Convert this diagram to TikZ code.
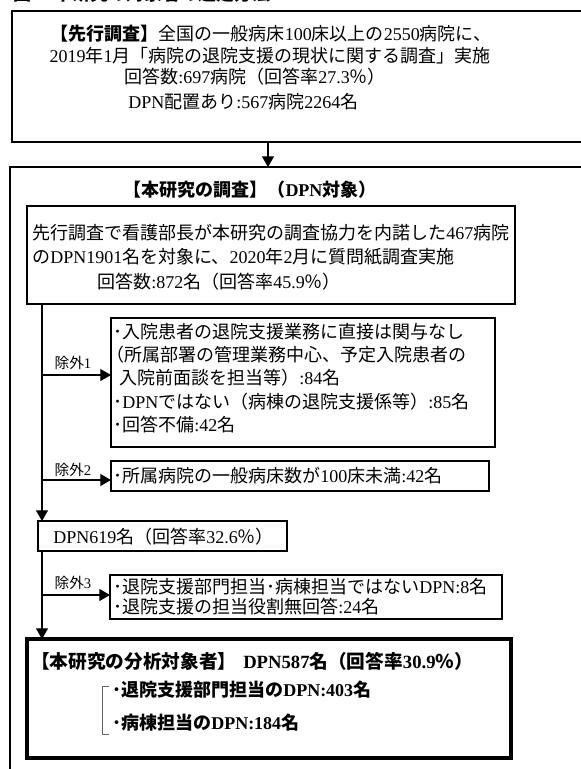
\documentclass[tikz,border=0pt]{standalone}
\usepackage{fontspec}
\setmainfont{Noto Sans CJK JP}
\newfontfamily\tnr{Liberation Serif}
\newcommand\lat[1]{{\tnr #1}}
\newcommand\fsmain{\fontsize{13.5pt}{16pt}\selectfont}
\newcommand\fstitle{\fontsize{14pt}{17pt}\selectfont}
\newcommand\fslab{\fontsize{11pt}{13pt}\selectfont}
\usetikzlibrary{arrows.meta,fit}
\tikzset{
  box/.style={draw, line width=1.2pt, inner sep=0pt, outer sep=0pt},
  thickbox/.style={draw, line width=2.5pt, inner sep=0pt, outer sep=0pt},
  tx/.style={inner sep=0pt, anchor=west, font=\fsmain, text height=11.9pt, text depth=1.6pt},
  txc/.style={tx, anchor=center},
  lab/.style={inner sep=0pt, font=\fslab, text height=9.7pt, text depth=1.3pt},
  arr/.style={line width=0.8pt, -{Triangle[length=8pt,width=9pt]}},
  brk/.style={line width=0.5pt, draw=black!60},
}
\begin{document}
\begin{tikzpicture}[x=0.75pt,y=-0.75pt]
\useasboundingbox (0,0) rectangle (581,769);
\clip (0,0) rectangle (581,769);
% caption, cut off at the top edge
\node[tx, font=\fsmain\bfseries] (cap) at (13,-6) {図\lat{1}\hspace{11pt}本研究の対象者の選定方法};
% preceding survey
\node[box, fit={(12,11) (640,142)}] (top) {};
\node[txc] (t1) at (271,34) {{\bfseries 【先行調査】}全国の一般病床\lat{100}床以上の\lat{2550}病院に、};
\node[txc] (t2) at (270,56) {\lat{2019}年\lat{1}月「病院の退院支援の現状に関する調査」実施};
\node[tx] (t3) at (124,77) {回答数\lat{:697}病院（回答率\lat{27.3}％）};
\node[tx] (t4) at (128,102) {\lat{DPN}配置あり\lat{:567}病院\lat{2264}名};
% main study frame
\node[box, fit={(10,167) (640,800)}] (big) {};
\coordinate (a0) at (268,142);
\draw[arr] (a0) -- (a0 |- big.north);
\node[txc, font=\fsmain\bfseries] (bt) at (250,190) {【本研究の調査】（\lat{DPN}対象）};
% box 1
\node[box, fit={(27,206) (515,304)}] (b1) {};
\node[tx] (b1a) at (32,233) {先行調査で看護部長が本研究の調査協力を内諾した\lat{467}病院};
\node[tx] (b1b) at (32,257) {の\lat{DPN1901}名を対象に、\lat{2020}年\lat{2}月に質問紙調査実施};
\node[tx] (b1c) at (97,282) {回答数\lat{:872}名（回答率\lat{45.9}％）};
% exclusion 1
\node[box, fit={(111,318) (495,447)}] (e1) {};
\node[tx] (e1a) at (113,332) {･入院患者の退院支援業務に直接は関与なし};
\node[tx] (e1b) at (106,355) {（所属部署の管理業務中心、予定入院患者の};
\node[tx] (e1c) at (119,378) {入院前面談を担当等）\lat{:84}名};
\node[tx] (e1d) at (113,402) {･\lat{DPN}ではない（病棟の退院支援係等）\lat{:85}名};
\node[tx] (e1e) at (113,425) {･回答不備\lat{:42}名};
% exclusion 2
\node[box, fit={(111,461) (489,491)}] (e2) {};
\node[tx] (e2a) at (113,476) {･所属病院の一般病床数が\lat{100}床未満\lat{:42}名};
% DPN619
\node[box, fit={(38,521) (287,551)}] (d1) {};
\node[tx] (d1a) at (53,537) {\lat{DPN619}名（回答率\lat{32.6}％）};
% exclusion 3
\node[box, fit={(110,575) (502,619)}] (e3) {};
\node[tx] (e3a) at (113,587) {･退院支援部門担当･病棟担当ではない\lat{DPN:8}名};
\node[tx] (e3b) at (113,607) {･退院支援の担当役割無回答\lat{:24}名};
% final box
\node[thickbox, fit={(27,639) (511,758)}] (fin) {};
\node[tx, font=\fstitle\bfseries] (f1) at (31,662) {【本研究の分析対象者】\hspace{5pt}\lat{DPN587}名（回答率\lat{30.9}％）};
\node[tx, font=\fsmain\bfseries] (f2) at (112,690) {･退院支援部門担当の\lat{DPN:403}名};
\node[tx, font=\fsmain\bfseries] (f3) at (112,723) {･病棟担当の\lat{DPN:184}名};
\draw[brk] (109,686) -- (102,686) -- (102,734) -- (109,734);
% spine and arrows
\coordinate (spx) at (42,0);
\draw[arr] (b1.south -| spx) -- (d1.north -| spx);
\draw[arr] (d1.south -| spx) -- (fin.north -| spx);
\coordinate (r1) at (42,375);
\coordinate (r2) at (42,480);
\coordinate (r3) at (42,595);
\draw[arr] (r1) -- (r1 -| e1.west);
\draw[arr] (r2) -- (r2 -| e2.west);
\draw[arr] (r3) -- (r3 -| e3.west);
\node[lab] (x1) at (73,363) {除外\lat{1}};
\node[lab] (x2) at (73,470) {除外\lat{2}};
\node[lab] (x3) at (73,583) {除外\lat{3}};
\end{tikzpicture}
\end{document}
